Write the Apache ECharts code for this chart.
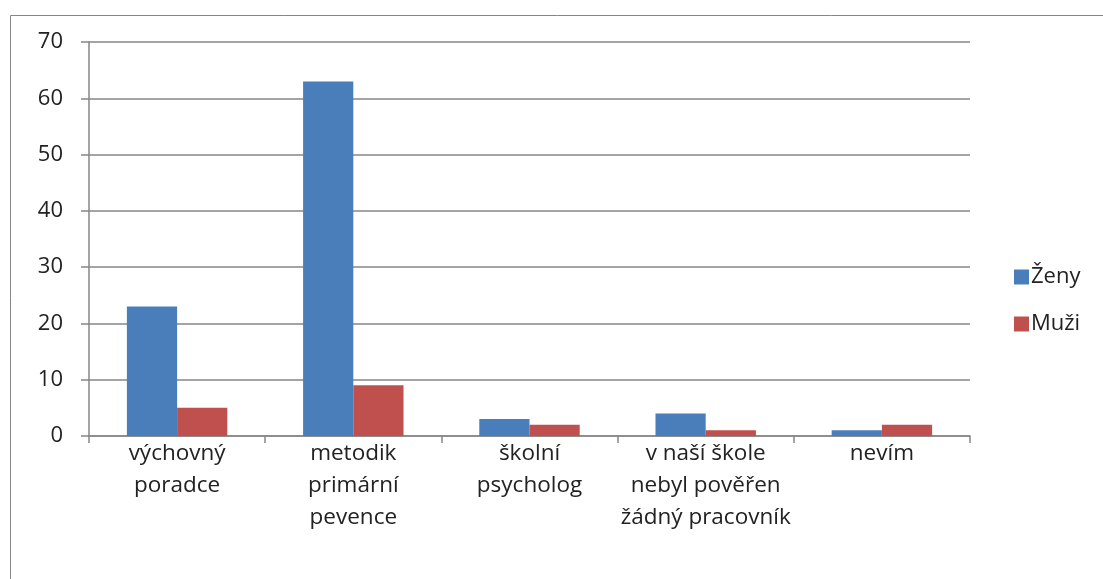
<!DOCTYPE html>
<html>
<head>
<meta charset="utf-8">
<script src="https://cdn.jsdelivr.net/npm/echarts@6/dist/echarts.min.js"></script>
<style>
html,body{margin:0;padding:0;background:#fff;}
#c{width:1103px;height:579px;}
</style>
</head>
<body>
<div id="c"></div>
<script>
const categories = ["výchovný\nporadce", "metodik\nprimární\npevence", "školní\npsycholog", "v naší škole\nnebyl pověřen\nžádný pracovník", "nevím"];
const zeny = [23, 63, 3, 4, 1];
const muzi = [5, 9, 2, 1, 2];
const seriesNames = ["Ženy", "Muži"];
const yTicks = {min: 0, max: 70, interval: 10};

const FONT = "'Open Sans', Lato, sans-serif";
const GREY = "#868686";
const chart = echarts.init(document.getElementById('c'), null, {renderer: 'canvas'});
chart.setOption({
  animation: false,
  backgroundColor: '#fff',
  graphic: [{
    type: 'rect', left: 8, top: 13, z: -1,
    shape: {width: 1300, height: 800},
    style: {fill: 'none', stroke: GREY, lineWidth: 1}
  }],
  grid: {left: 89, top: 42, width: 881, height: 394, containLabel: false},
  legend: {
    orient: 'vertical', left: 1009, top: 261,
    itemWidth: 15, itemHeight: 15, itemGap: 25,
    icon: 'rect',
    textStyle: {fontFamily: FONT, fontSize: 22, color: '#222', padding: [0,0,0,-3]},
    data: seriesNames
  },
  xAxis: {
    type: 'category', data: categories,
    axisLine: {lineStyle: {color: GREY, width: 1.5}},
    axisTick: {show: true, length: 7, lineStyle: {color: GREY, width: 1.5}},
    axisLabel: {fontFamily: FONT, fontSize: 22.5, color: '#222', lineHeight: 32, margin: 2, interval: 0}
  },
  yAxis: {
    type: 'value', min: yTicks.min, max: yTicks.max, interval: yTicks.interval,
    axisLine: {show: true, lineStyle: {color: GREY, width: 1.5}},
    axisTick: {show: true, length: 8, lineStyle: {color: GREY, width: 1.5}},
    splitLine: {lineStyle: {color: GREY, width: 1.5}},
    axisLabel: {fontFamily: FONT, fontSize: 22, color: '#222', margin: 26}
  },
  series: [
    {name: seriesNames[0], type: 'bar', data: zeny, barGap: '0%', barCategoryGap: '43%',
     itemStyle: {color: '#4A7EBB'}},
    {name: seriesNames[1], type: 'bar', data: muzi, barGap: '0%', barCategoryGap: '43%',
     itemStyle: {color: '#C0504D'}}
  ]
});
</script>
</body>
</html>
